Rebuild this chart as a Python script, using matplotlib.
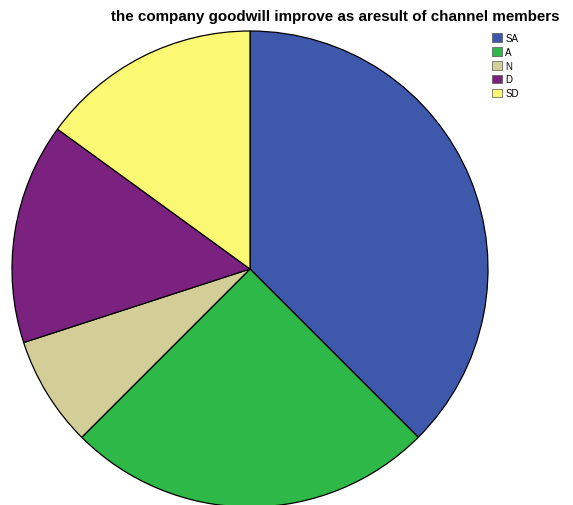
import matplotlib.pyplot as plt
from matplotlib.patches import Patch

labels = ["SA", "A", "N", "D", "SD"]
counts = [15, 10, 3, 6, 6]
colors = ["#3e58ac", "#2eb848", "#d3ce97", "#7b2281", "#fbf873"]
title = "the company goodwill improve as aresult of channel members"

W, H = 573, 506
fig = plt.figure(figsize=(W / 100, H / 100), dpi=100)

# pie centre (250, 270) px, radius 238 px
cx, cy, r = 250, 270, 238
ax = fig.add_axes([(cx - r) / W, (H - cy - r) / H, 2 * r / W, 2 * r / H])
ax.pie(
    counts,
    colors=colors,
    startangle=90,
    counterclock=False,
    wedgeprops=dict(edgecolor="black", linewidth=0.9),
)
ax.set_aspect("equal")
ax.set_xlim(-1, 1)
ax.set_ylim(-1, 1)
ax.axis("off")

fig.text(
    335 / W, 1 - 17 / H, title,
    ha="center", va="center", fontsize=10.9, fontweight="bold",
    family="Liberation Sans",
)

handles = [Patch(facecolor=c, edgecolor="#555555", linewidth=0.5) for c in colors]
fig.legend(
    handles, labels,
    loc="upper left", bbox_to_anchor=(485 / W, 1 - 27 / H),
    frameon=False, handlelength=1.0, handleheight=1.0,
    handletextpad=0.4, labelspacing=0.4, borderpad=0.2,
    prop=dict(family="Liberation Sans", size=7),
)

fig.savefig("out.png", dpi=100)
